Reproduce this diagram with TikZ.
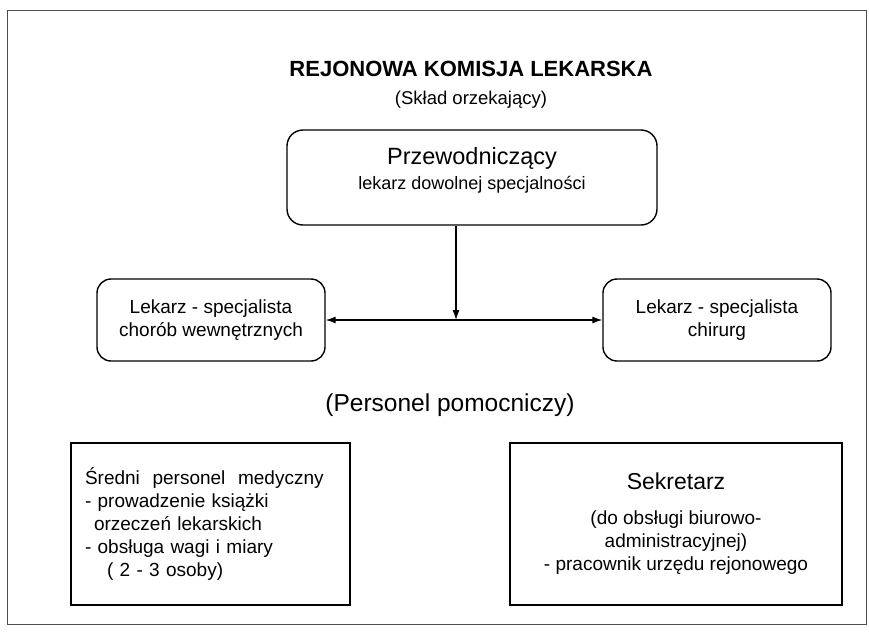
\documentclass[tikz,border=0pt]{standalone}
\usepackage{fontspec}
\setmainfont{Liberation Sans}
\usepackage{tikz}
\usetikzlibrary{arrows.meta,positioning}

\begin{document}
\begin{tikzpicture}[x=1pt, y=-1pt,
  b/.style={draw, rounded corners=16pt, line width=1.4pt, align=center, inner sep=0pt},
  r/.style={draw, line width=1.4pt, inner sep=0pt},
  a/.style={-{Latex[length=10pt,width=7pt]}, line width=1.1pt},
  aa/.style={{Latex[length=10pt,width=7pt]}-{Latex[length=10pt,width=7pt]}, line width=1.1pt},
  txt/.style={font=\fontsize{19}{23}\selectfont}
]
\useasboundingbox (0,0) rectangle (869,633);
\draw[black!70, line width=1pt] (7,10) rectangle (866,624);

\node[font=\bfseries\fontsize{22}{26}\selectfont] (T) at (471,69) {REJONOWA KOMISJA LEKARSKA};
\node[font=\fontsize{18.5}{22}\selectfont, below=7pt of T] (S) {(Skład orzekający)};

\node[b, minimum width=370pt, minimum height=95pt] (P) at (472,177.5)
  {{\fontsize{23.5}{27}\selectfont Przewodniczący}\\[6pt]{\fontsize{18}{21}\selectfont lekarz dowolnej specjalności}\\[6pt]};
\node[b, rounded corners=14pt, minimum width=228pt, minimum height=82pt, txt] (L) at (211,320) {Lekarz - specjalista\\chorób wewnętrznych};
\node[b, rounded corners=14pt, minimum width=228pt, minimum height=82pt, txt] (R) at (717,320) {Lekarz - specjalista\\chirurg};
\coordinate (M) at (456,320);

\draw[a] (P.south -| M) -- (M);
\draw[aa] (L) -- (R);

\node[font=\fontsize{24.5}{28}\selectfont] (H) at (450,405) {(Personel pomocniczy)};

\node[r, minimum width=279pt, minimum height=162pt, text width=251pt, align=left, txt] (N) at (210.5,524)
  {Średni\ \ personel\ \ medyczny\\- prowadzenie książki\\\hspace*{9pt}orzeczeń lekarskich\\- obsługa wagi i miary\\\hspace*{22pt}( 2 - 3 osoby)};
\node[r, minimum width=332pt, minimum height=162pt, align=center, txt] (K) at (676,524)
  {{\fontsize{23}{26}\selectfont Sekretarz}\\[12pt](do obsługi biurowo-\\administracyjnej)\\- pracownik urzędu rejonowego};
\end{tikzpicture}
\end{document}
